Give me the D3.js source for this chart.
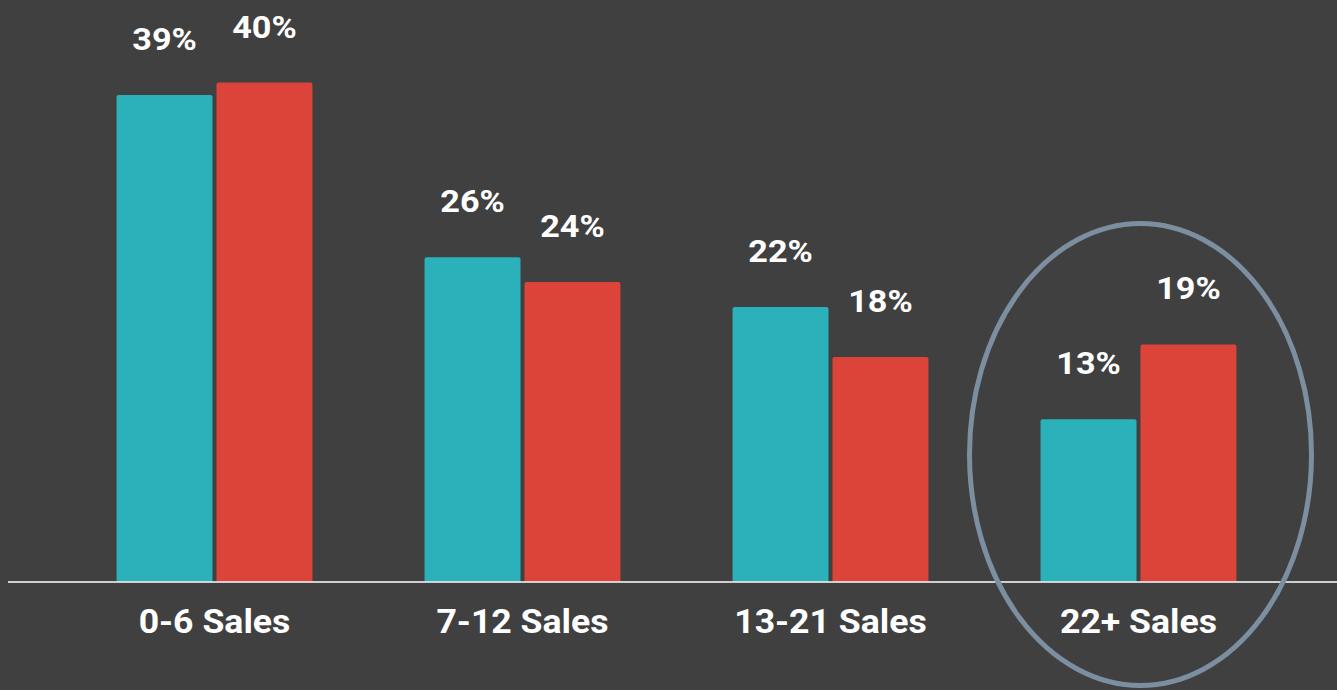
<!DOCTYPE html>
<html>
<head>
<meta charset="utf-8">
<script src="https://cdn.jsdelivr.net/npm/d3@7"></script>
<style>
  html, body { margin: 0; padding: 0; background: #404040; }
  svg { display: block; }
</style>
</head>
<body>
<svg id="chart" width="1337" height="690"></svg>
<script>
const categories = ["0-6 Sales", "7-12 Sales", "13-21 Sales", "22+ Sales"];
const seriesNames = ["Series A", "Series B"];
const seriesA = [39, 26, 22, 13];
const seriesB = [40, 24, 18, 19];
const colors = ["#2bb1b9", "#dc443a"];

const W = 1337, H = 690;
const svg = d3.select("#chart");
svg.append("rect").attr("width", W).attr("height", H).attr("fill", "#404040");

const baseY = 581.5;
const x = d3.scaleBand().domain(categories).range([60.5, 1292.5]).paddingInner(0.364).paddingOuter(0.182);
const xi = d3.scaleBand().domain(seriesNames).range([0, x.bandwidth()]).paddingInner(0.04);
const y = d3.scaleLinear().domain([0, 40]).range([baseY, 82.5]);

const data = categories.map((c, i) => ({ cat: c, vals: [seriesA[i], seriesB[i]] }));

const g = svg.selectAll("g.grp").data(data).enter().append("g")
  .attr("class", "grp")
  .attr("transform", d => `translate(${x(d.cat)},0)`);

g.selectAll("path.bar").data(d => d.vals.map((v, j) => ({ v, s: seriesNames[j], j })))
  .enter().append("path")
  .attr("class", "bar")
  .attr("fill", d => colors[d.j])
  .attr("d", d => {
    const x0 = xi(d.s), w = xi.bandwidth(), y0 = y(d.v), r = 2;
    return `M${x0},${baseY} L${x0},${y0 + r} Q${x0},${y0} ${x0 + r},${y0} L${x0 + w - r},${y0} Q${x0 + w},${y0} ${x0 + w},${y0 + r} L${x0 + w},${baseY} Z`;
  });

g.selectAll("text.val").data(d => d.vals.map((v, j) => ({ v, s: seriesNames[j] })))
  .enter().append("text")
  .attr("class", "val")
  .attr("transform", d => `translate(${xi(d.s) + xi.bandwidth() / 2},${y(d.v) - 45}) scale(1.07,1)`)
  .attr("text-anchor", "middle")
  .attr("fill", "#ffffff")
  .attr("font-family", "Roboto, 'Noto Sans', sans-serif")
  .attr("font-weight", "bold")
  .attr("font-size", 32)
  .text(d => d.v + "%");

// baseline
svg.append("line")
  .attr("x1", 8).attr("x2", W)
  .attr("y1", baseY + 0.5).attr("y2", baseY + 0.5)
  .attr("stroke", "#ffffff").attr("stroke-width", 1.5);

// category labels
svg.selectAll("text.cat").data(categories).enter().append("text")
  .attr("class", "cat")
  .attr("transform", d => `translate(${x(d) + x.bandwidth() / 2},633) scale(1.08,1)`)
  .attr("text-anchor", "middle")
  .attr("fill", "#ffffff")
  .attr("font-family", "Roboto, 'Noto Sans', sans-serif")
  .attr("font-weight", "bold")
  .attr("font-size", 33)
  .text(d => d);

// highlight ellipse around last category
const last = categories[categories.length - 1];
svg.append("ellipse")
  .attr("cx", x(last) + x.bandwidth() / 2 + 2)
  .attr("cy", 454.5)
  .attr("rx", 171)
  .attr("ry", 231)
  .attr("fill", "none")
  .attr("stroke", "#7b8fa1")
  .attr("stroke-width", 5);
</script>
</body>
</html>
